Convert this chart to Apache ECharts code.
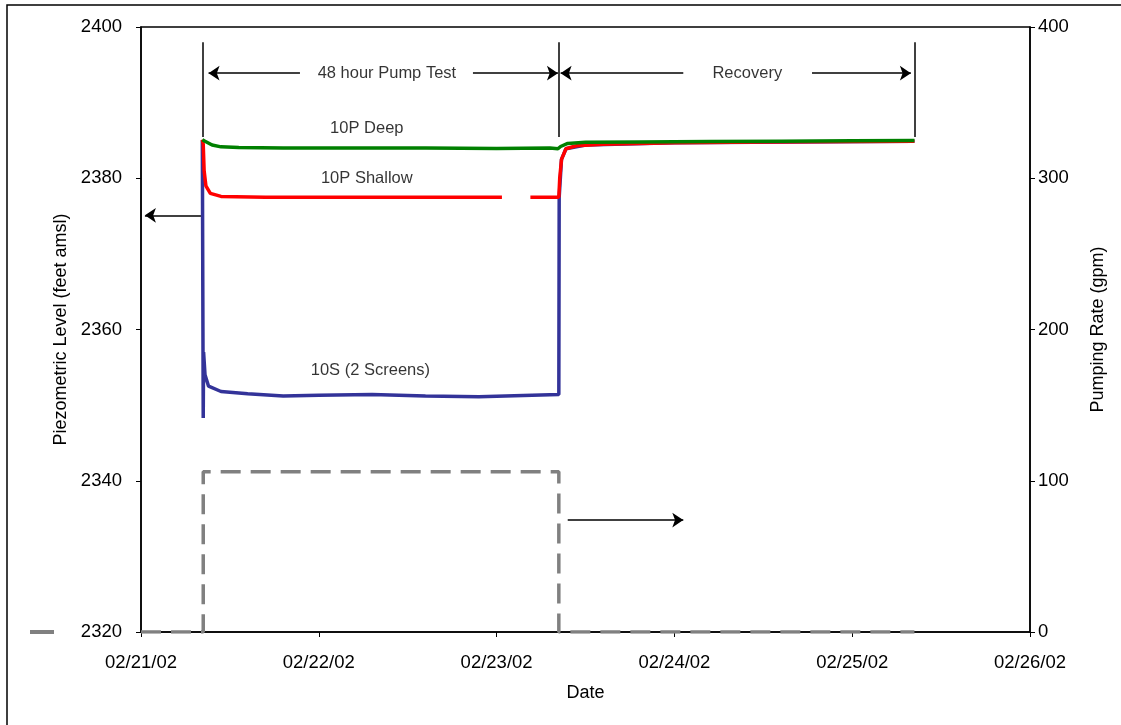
<!DOCTYPE html>
<html>
<head>
<meta charset="utf-8">
<script src="https://cdn.jsdelivr.net/npm/echarts@6/dist/echarts.min.js"></script>
<style>
  html, body { margin: 0; padding: 0; background: #fff; }
  #chart { width: 1121px; height: 725px; }
</style>
</head>
<body>
<div id="chart"></div>
<script>
  // x values are days since 02/21/02 00:00
  var dateLabels = ['02/21/02', '02/22/02', '02/23/02', '02/24/02', '02/25/02', '02/26/02'];

  var deep10P = [
    [0.345, 2385.1], [0.36, 2384.9], [0.40, 2384.4], [0.45, 2384.15], [0.55, 2384.05],
    [0.8, 2384.0], [1.2, 2384.0], [1.6, 2384.0], [2.0, 2383.95], [2.3, 2384.0],
    [2.345, 2383.9], [2.36, 2384.2], [2.40, 2384.6], [2.5, 2384.75], [2.8, 2384.8],
    [3.2, 2384.85], [3.6, 2384.9], [4.0, 2384.95], [4.35, 2385.0]
  ];

  var shallow10P = [
    [0.345, 2385.1], [0.35, 2384.5], [0.355, 2381.0], [0.365, 2379.0], [0.39, 2378.0],
    [0.45, 2377.6], [0.7, 2377.5], [1.0, 2377.5], [1.4, 2377.5], [1.8, 2377.5],
    [2.03, 2377.5], null, [2.19, 2377.5], [2.35, 2377.5], [2.355, 2380.0],
    [2.365, 2382.5], [2.39, 2383.9], [2.45, 2384.3], [2.6, 2384.5], [3.0, 2384.7],
    [3.5, 2384.8], [4.0, 2384.85], [4.35, 2384.9]
  ];

  var screens10S = [
    [0.345, 2385.0], [0.35, 2348.3], [0.352, 2357.0], [0.36, 2354.0], [0.38, 2352.5],
    [0.45, 2351.8], [0.6, 2351.5], [0.8, 2351.2], [1.0, 2351.3], [1.3, 2351.4],
    [1.6, 2351.2], [1.9, 2351.1], [2.2, 2351.3], [2.35, 2351.4], [2.352, 2377.5],
    [2.365, 2382.5], [2.39, 2383.9], [2.5, 2384.4], [3.0, 2384.7], [4.35, 2384.9]
  ];

  var pumpRate = [
    [0, 0], [0.35, 0], [0.35, 106], [2.35, 106], [2.35, 0], [4.35, 0]
  ];

  // text notes: [day, level, text]
  var notes = [
    [1.383, 2393.9, '48 hour Pump Test'],
    [3.41, 2393.9, 'Recovery'],
    [1.27, 2386.6, '10P Deep'],
    [1.27, 2380.0, '10P Shallow'],
    [1.29, 2354.6, '10S (2 Screens)']
  ];

  var markers = [0.35, 2.35, 4.35];   // pump on, pump off, end of recovery
  var fnt = 'Liberation Sans, Arial, sans-serif';

  var chart = echarts.init(document.getElementById('chart'));

  function seg(a, b, arrow) {
    return [
      { coord: a, symbol: 'none' },
      { coord: b, symbol: arrow ? 'arrow' : 'none' }
    ];
  }

  var levelLines = markers.map(function (d) { return seg([d, 2385.45], [d, 2398]); });
  levelLines.push(seg([0.894, 2393.9], [0.38, 2393.9], true));
  levelLines.push(seg([1.867, 2393.9], [2.345, 2393.9], true));
  levelLines.push(seg([3.05, 2393.9], [2.36, 2393.9], true));
  levelLines.push(seg([3.774, 2393.9], [4.33, 2393.9], true));
  levelLines.push(seg([0.337, 2375.1], [0.022, 2375.1], true));

  var tickText = { fontSize: 18.5, color: '#000', fontFamily: fnt };
  var nameText = { fontSize: 18, color: '#000', fontFamily: fnt };

  var option = {
    animation: false,
    textStyle: { fontFamily: fnt },
    grid: {
      left: 141, right: 91, top: 27, bottom: 93,
      show: true, borderColor: '#000', borderWidth: 1.5
    },
    xAxis: {
      type: 'value', min: 0, max: 5, interval: 1,
      name: 'Date', nameLocation: 'middle', nameGap: 52,
      nameTextStyle: nameText,
      axisLine: { lineStyle: { color: '#000', width: 1.5 } },
      axisTick: { length: 5, lineStyle: { color: '#000' } },
      axisLabel: Object.assign({
        margin: 21,
        formatter: function (v) { return dateLabels[Math.round(v)]; }
      }, tickText),
      splitLine: { show: false }
    },
    yAxis: [
      {
        type: 'value', min: 2320, max: 2400, interval: 20,
        name: 'Piezometric Level (feet amsl)', nameLocation: 'middle', nameGap: 70,
        nameTextStyle: nameText,
        axisLine: { show: true, lineStyle: { color: '#000', width: 1.5 } },
        axisTick: { show: true, length: 5, lineStyle: { color: '#000' } },
        axisLabel: Object.assign({
          margin: 19,
          formatter: function (v) { return String(v); }
        }, tickText),
        splitLine: { show: false }
      },
      {
        type: 'value', min: 0, max: 400, interval: 100, position: 'right',
        name: 'Pumping Rate (gpm)', nameLocation: 'middle', nameGap: 59,
        nameTextStyle: nameText,
        axisLine: { show: true, lineStyle: { color: '#000', width: 1.5 } },
        axisTick: { show: true, length: 5, lineStyle: { color: '#000' } },
        axisLabel: Object.assign({
          margin: 8,
          formatter: function (v) { return String(v); }
        }, tickText),
        splitLine: { show: false }
      }
    ],
    series: [
      {
        name: 'Pumping Rate', type: 'line', yAxisIndex: 1, data: pumpRate,
        showSymbol: false, silent: true,
        lineStyle: { color: '#808080', width: 3.5, type: [20, 10] },
        markLine: {
          silent: true, symbolSize: 11,
          lineStyle: { color: '#000', width: 1.5, type: 'solid' },
          label: { show: false },
          data: [seg([2.40, 74], [3.05, 74], true)]
        }
      },
      {
        name: '10S (2 Screens)', type: 'line', data: screens10S,
        showSymbol: false, silent: true,
        lineStyle: { color: '#333399', width: 3.5 }
      },
      {
        name: '10P Shallow', type: 'line', data: shallow10P, connectNulls: false,
        showSymbol: false, silent: true,
        lineStyle: { color: '#ff0000', width: 3.5 }
      },
      {
        name: '10P Deep', type: 'line', data: deep10P,
        showSymbol: false, silent: true,
        lineStyle: { color: '#008000', width: 3.5 }
      },
      {
        name: 'notes', type: 'scatter', data: notes, symbolSize: 0, silent: true,
        label: {
          show: true, position: 'inside', color: '#000', fontSize: 16.5, fontFamily: fnt,
          formatter: function (p) { return p.data[2]; }
        },
        markLine: {
          silent: true, symbolSize: 11,
          lineStyle: { color: '#000', width: 1.5, type: 'solid' },
          label: { show: false },
          data: levelLines
        }
      }
    ],
    graphic: [
      {
        type: 'rect', silent: true,
        shape: { x: 7, y: 5, width: 1130, height: 740 },
        style: { fill: null, stroke: '#000', lineWidth: 1.5 }
      },
      {
        type: 'line', silent: true,
        shape: { x1: 30, y1: 632, x2: 54, y2: 632 },
        style: { stroke: '#808080', lineWidth: 4 }
      }
    ]
  };

  chart.setOption(option);
</script>
</body>
</html>
